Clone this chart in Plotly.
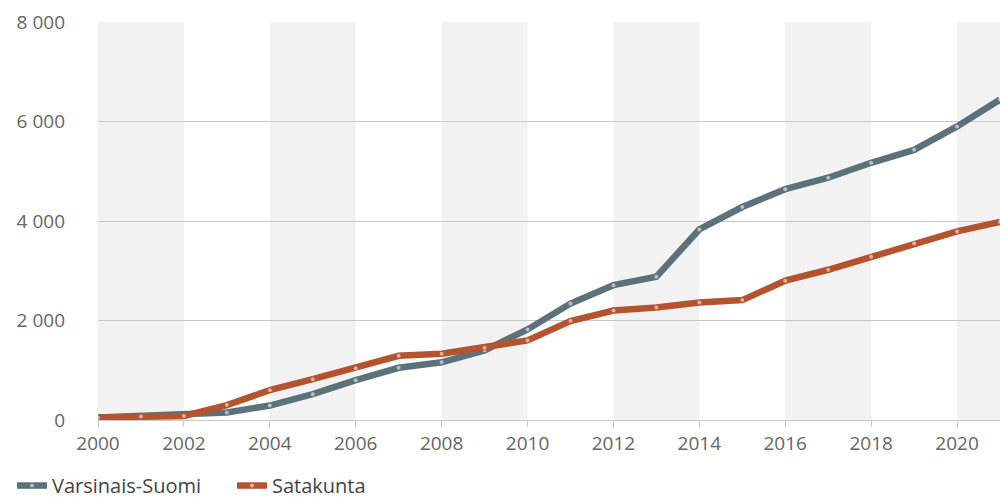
import plotly.graph_objects as go

years = list(range(2000, 2022))
varsinais_suomi = [50, 80, 100, 150, 290, 520, 800, 1050, 1160, 1400, 1820, 2340, 2710, 2880,
                   3830, 4280, 4640, 4870, 5170, 5430, 5900, 6440]
satakunta = [50, 70, 80, 300, 600, 820, 1040, 1290, 1330, 1450, 1600, 1990, 2200, 2260,
             2360, 2410, 2800, 3020, 3280, 3550, 3790, 3980]
band_starts = [2000, 2004, 2008, 2012, 2016, 2020]
y_ticks = [0, 2000, 4000, 6000, 8000]
y_tick_labels = ["0", "2 000", "4 000", "6 000", "8 000"]
x_ticks = list(range(2000, 2022, 2))

FONT = "Open Sans"
fig = go.Figure()

series = [("Varsinais-Suomi", varsinais_suomi, "#5d717b"),
          ("Satakunta", satakunta, "#b4532d")]
for name, vals, col in series:
    fig.add_trace(go.Scatter(
        x=years, y=vals, name=name, mode="lines+markers",
        line=dict(color=col, width=6.5),
        marker=dict(size=4, color="rgba(255,255,255,0.55)", line=dict(width=0)),
        cliponaxis=False,
    ))

shapes = []
for b in band_starts:
    shapes.append(dict(type="rect", xref="x", yref="paper", x0=b, x1=b + 2, y0=0, y1=1,
                       fillcolor="#f2f2f2", line=dict(width=0), layer="below"))
fig.update_layout(shapes=shapes)

fig.update_layout(
    width=1000, height=499,
    margin=dict(l=98, r=0, t=22, b=79, autoexpand=False),
    paper_bgcolor="white", plot_bgcolor="white",
    font=dict(family=FONT, size=19, color="#666666"),
    showlegend=True,
    legend=dict(orientation="h", xref="container", yref="container",
                x=0.012, y=0.027, xanchor="left", yanchor="middle",
                font=dict(size=20, color="#444444"),
                entrywidth=175, entrywidthmode="pixels",
                itemwidth=30, tracegroupgap=0, bgcolor="rgba(0,0,0,0)"),
    xaxis=dict(range=[2000, 2021], tickvals=x_ticks, ticktext=[str(t) for t in x_ticks],
               showgrid=False, zeroline=False, showline=True, linecolor="#c8c8c8",
               linewidth=1, ticks="outside", ticklen=6, tickcolor="#c8c8c8",
               tickfont=dict(size=19, color="#666666"), fixedrange=True),
    yaxis=dict(range=[0, 8000], tickvals=y_ticks, ticktext=y_tick_labels,
               showgrid=True, gridcolor="#c8c8c8", gridwidth=1, zeroline=False,
               showline=False, ticks="", ticklabelstandoff=32,
               tickfont=dict(size=19, color="#666666"), fixedrange=True),
)

fig.write_html("out.html", config={"displayModeBar": False},
               post_script="document.body.style.margin='0';document.body.style.overflow='hidden';")
